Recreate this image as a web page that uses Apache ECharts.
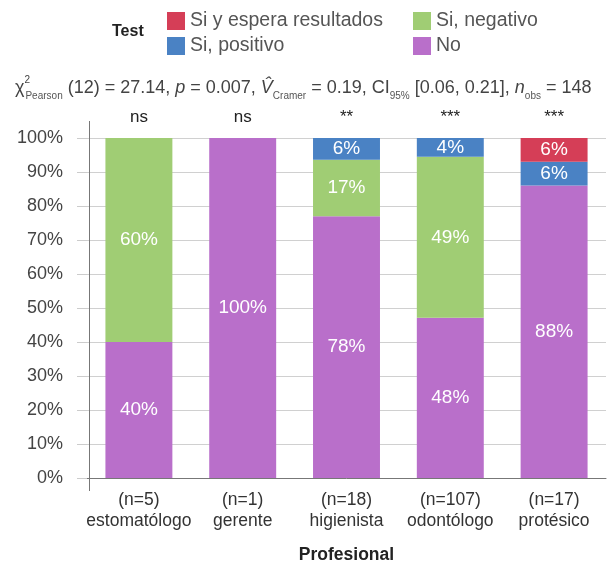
<!DOCTYPE html>
<html><head><meta charset="utf-8">
<script src="https://cdn.jsdelivr.net/npm/echarts@6/dist/echarts.min.js"></script>
<style>html,body{margin:0;padding:0;background:#fff}#c{width:609px;height:569px}</style>
</head><body><div id="c"></div>
<script>
const categories = ['estomatólogo','gerente','higienista','odontólogo','protésico'];
const counts = [5,1,18,107,17];
const significance = ['ns','ns','**','***','***'];
// percentages as drawn (bottom to top stack: No, Si negativo, Si positivo, Si y espera)
const noVals       = [40, 100, 77.0, 47.1, 86.0];
const negVals      = [60, 0, 16.6, 47.4, 0];
const posVals      = [0, 0, 6.4, 5.5, 7.0];
const esperaVals   = [0, 0, 0, 0, 7.0];
// labels printed on segments
const noLabels     = ['40%','100%','78%','48%','88%'];
const negLabels    = ['60%','','17%','49%',''];
const posLabels    = ['','','6%','4%','6%'];
const esperaLabels = ['','','','','6%'];

const FONT = 'Liberation Sans';
const colors = {espera:'#D53E57', pos:'#4A82C4', neg:'#A0CD74', no:'#B96FCA'};

function mk(name, vals, labs, color){
  return {
    name, type:'bar', stack:'s', barWidth:'64.5%', xAxisIndex:0,
    itemStyle:{color},
    data: vals.map((v,i)=>({value:v, label:{show: labs[i]!=='' , formatter: labs[i]}})),
    label:{show:true, position:'inside', color:'#fff', fontFamily:FONT, fontSize:19, fontWeight:'normal'},
    emphasis:{disabled:true}
  };
}

const chart = echarts.init(document.getElementById('c'), null, {renderer:'canvas'});
chart.setOption({
  animation:false,
  textStyle:{fontFamily:FONT},
  title:[
    {text:'Test', left:107, top:19, textStyle:{fontFamily:FONT, fontSize:16, fontWeight:'bold', color:'#222'}},
    {left:10, top:70,
     text:'χ{sup|2}{sub|Pearson} (12) = 27.14, {it|p} = 0.007, {it|V̂}{sub|Cramer} = 0.19, CI{sub|95%} [0.06, 0.21], {it|n}{sub|obs} = 148',
     textStyle:{fontFamily:FONT, fontSize:18, color:'#444', fontWeight:'normal', lineHeight:26,
       rich:{
         sup:{fontSize:10, color:'#444', verticalAlign:'top', lineHeight:26, width:1},
         sub:{fontSize:10, color:'#555', verticalAlign:'bottom', lineHeight:26},
         it:{fontSize:18, color:'#444', fontStyle:'italic', lineHeight:26}
       }}}
  ],
  legend:[
    {orient:'vertical', left:162, top:6, itemWidth:18, itemHeight:18, itemGap:5, icon:'rect',
     data:['Si y espera resultados','Si, positivo'],
     textStyle:{fontFamily:FONT, fontSize:19.5, color:'#555'}, selectedMode:false},
    {orient:'vertical', left:408, top:6, itemWidth:18, itemHeight:18, itemGap:5, icon:'rect',
     data:['Si, negativo','No'],
     textStyle:{fontFamily:FONT, fontSize:19.5, color:'#555'}, selectedMode:false}
  ],
  grid:{left:87, right:3, top:138, bottom:89, containLabel:false},
  xAxis:[
    {type:'category', data:categories.map((c,i)=>'(n='+counts[i]+')\n'+c),
     axisLine:{show:true, lineStyle:{color:'#777', width:1}}, axisTick:{show:false},
     axisLabel:{interval:0, fontFamily:FONT, fontSize:17.5, color:'#333', lineHeight:21, margin:12},
     name:'Profesional', nameLocation:'middle', nameGap:68,
     nameTextStyle:{fontFamily:FONT, fontSize:17.5, fontWeight:'bold', color:'#222'}},
    {type:'category', position:'top', data:significance,
     axisLine:{show:false}, axisTick:{show:false},
     axisLabel:{interval:0, fontFamily:FONT, fontSize:17, color:'#222', margin:12}}
  ],
  yAxis:{type:'value', min:0, max:100, interval:10,
    axisLine:{show:false},
    axisTick:{show:true, length:10, lineStyle:{color:'#ccc'}},
    splitLine:{show:true, lineStyle:{color:'#d0d0d0', width:1}},
    axisLabel:{formatter:v=>v+'%', fontFamily:FONT, fontSize:18, color:'#444', margin:24}
  },
  graphic:[
    {type:'line', shape:{x1:89.5, y1:121, x2:89.5, y2:491}, style:{stroke:'#777', lineWidth:1}, z:100}
  ],
  series:[
    mk('No', noVals, noLabels, colors.no),
    mk('Si, negativo', negVals, negLabels, colors.neg),
    mk('Si, positivo', posVals, posLabels, colors.pos),
    mk('Si y espera resultados', esperaVals, esperaLabels, colors.espera)
  ]
});
</script></body></html>
